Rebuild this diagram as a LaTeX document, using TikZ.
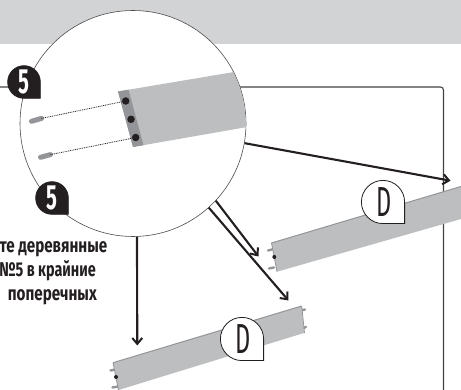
\documentclass[tikz,border=0pt]{standalone}
\usepackage{fontspec}
\setmainfont{Fira Sans}
\usetikzlibrary{arrows.meta}
\definecolor{ink}{HTML}{231F20}
\definecolor{band}{HTML}{D1D3D4}
\definecolor{board}{HTML}{BCBEC0}
\definecolor{edgegray}{HTML}{939598}
\tikzset{
  conn/.style={draw=ink,line width=2.1pt,-{Straight Barb[length=6pt,width=10pt,line width=2pt]}},
  thinline/.style={draw=ink!85,line width=1.1pt,rounded corners=3pt},
  pin/.style={draw=edgegray,line width=5pt,line cap=round},
  smallpin/.style={draw=edgegray,line width=2.4pt,line cap=round},
  dots/.style={draw=ink,line width=.8pt,dash pattern=on .9pt off .9pt},
  caption/.style={font=\bfseries\fontsize{20}{20}\selectfont,text=ink,anchor=base east,inner sep=0pt},
  numlabel/.style={font=\bfseries\fontsize{35}{35}\selectfont,text=white,inner sep=0pt,xscale=.58},
  letterlabel/.style={font=\fontsize{42}{42}\selectfont,text=ink,inner sep=0pt,xscale=.56},
}
\newcommand{\dropshape}[5]{% cx cy r draw fill
  \path[draw=#4,fill=#5,line width=.8pt] (#1+#3,#2) -- (#1+#3,#2+#3) -- (#1,#2+#3)
    arc[start angle=90,end angle=360,radius=#3] -- cycle;}
\begin{document}
\begin{tikzpicture}[x=1pt,y=-1pt]
\useasboundingbox (0,0) rectangle (461,390);
\begin{scope}
\clip (0,0) rectangle (461,390);
\fill[band] (0,0) rectangle (461,44);
% frame line
\coordinate (frameL) at (0,87);
\coordinate (frameR) at (150,87);
\coordinate (frameC) at (443.5,87);
\coordinate (frameB) at (443.5,390);
\draw[thinline] (frameL) -- (frameR) -- (frameC) -- (frameB);
% magnifier
\node[circle,draw=ink!80,line width=.6pt,fill=white,minimum size=226pt,inner sep=0pt] (lens) at (133,123.5) {};
\begin{scope}
\clip (133,123.5) circle[radius=112.6];
\fill[board] (118,91.5) -- (240,71) -- (250,126.5) -- (133,147) -- cycle;
\fill[edgegray] (118,91.5) -- (128.5,89.7) -- (143.5,145.2) -- (133,147) -- cycle;
\end{scope}
\node[circle,fill=ink,minimum size=7.5pt,inner sep=0pt] (holeA) at (125.7,101) {};
\node[circle,fill=ink,minimum size=7.5pt,inner sep=0pt] (holeB) at (131,119.3) {};
\node[circle,fill=ink,minimum size=7.5pt,inner sep=0pt] (holeC) at (135.7,137.5) {};
\coordinate (pinAa) at (31.5,121.3);
\coordinate (pinAb) at (41.5,118.4);
\coordinate (pinBa) at (40.5,157.3);
\coordinate (pinBb) at (50.5,154.6);
\draw[pin] (pinAa) -- (pinAb);
\draw[pin] (pinBa) -- (pinBb);
\draw[dots] (pinAb) -- (holeA);
\draw[dots] (pinBb) -- (holeC);
% upper right board
\draw[smallpin] (268,250.5) -- (272,249.5);
\draw[smallpin] (269,268.5) -- (274,267.5);
\path[fill=board] (271.5,243) -- (461,186.5) -- (461,219) -- (277,271.7) -- cycle;
\draw[edgegray,line width=1pt] (271.5,243) -- (461,186.5);
\draw[edgegray,line width=.8pt] (271.5,243) -- (277,271.7);
\node[circle,fill=ink,minimum size=4pt,inner sep=0pt] (dotU) at (274.3,257) {};
% lower board
\draw[smallpin] (110.5,370.5) -- (115,369.5);
\draw[smallpin] (112.5,387.5) -- (118,386.5);
\draw[smallpin] (301,310.5) -- (305,309.5);
\draw[smallpin] (303,328) -- (306,327);
\path[fill=board] (113,362.7) -- (301.7,306) -- (304,333) -- (118.5,390) -- cycle;
\draw[edgegray,line width=1pt] (113,362.7) -- (301.7,306);
\draw[edgegray,line width=.8pt] (113,362.7) -- (118.5,390);
\draw[edgegray,line width=.8pt] (301.7,306) -- (304.5,333);
\node[circle,fill=ink,minimum size=4pt,inner sep=0pt] (dotL) at (116,377) {};
% arrows
\coordinate (tipA) at (450.5,180.7);
\coordinate (tipB) at (258.5,256.5);
\coordinate (tipC) at (288.5,300.5);
\coordinate (tipD) at (137.3,345.5);
\draw[conn] (lens.-10.5) -- (tipA);
\draw[conn] (lens.-43) -- (tipB);
\draw[conn] (lens.-48) -- (tipC);
\draw[conn] (lens.-88) -- (tipD);
% badges
\dropshape{24}{82}{16.3}{ink}{ink}
\node[numlabel] (five1) at (24,81.5) {5};
\dropshape{52}{198}{16.3}{ink}{ink}
\node[numlabel] (five2) at (52,197.5) {5};
\dropshape{383}{202}{21.6}{ink}{white}
\node[letterlabel] (letterD1) at (384,202.5) {D};
\dropshape{242}{339}{21.6}{ink}{white}
\node[letterlabel] (letterD2) at (243,339.5) {D};
% caption
\node[caption,xscale=.76] (capA) at (107.5,253) {те деревянные};
\node[caption,xscale=.72] (capB) at (96,276.5) {№5 в крайние};
\node[caption,xscale=.76] (capC) at (97,301) {поперечных};
\end{scope}
\end{tikzpicture}
\end{document}
